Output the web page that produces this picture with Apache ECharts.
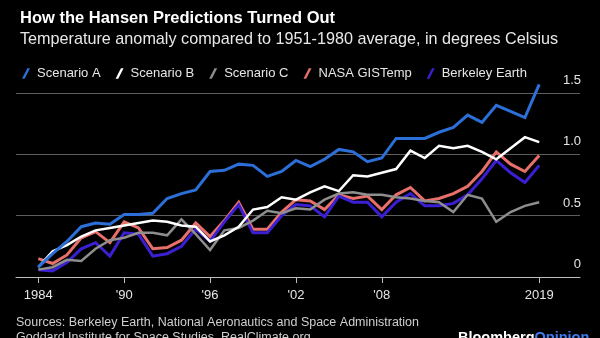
<!DOCTYPE html>
<html><head><meta charset="utf-8">
<script src="https://cdn.jsdelivr.net/npm/echarts@6/dist/echarts.min.js"></script>
<style>html,body{margin:0;padding:0;background:#000}#c{width:600px;height:338px}</style>
</head><body><div id="c"></div>
<script>
const years = [1984,1985,1986,1987,1988,1989,1990,1991,1992,1993,1994,1995,1996,1997,1998,1999,2000,2001,2002,2003,2004,2005,2006,2007,2008,2009,2010,2011,2012,2013,2014,2015,2016,2017,2018,2019];
const scenarioA = [0.08,0.19,0.29,0.41,0.44,0.43,0.51,0.51,0.52,0.64, 0.68,0.71,0.86,0.87,0.92,0.91,0.82,0.86,0.95,0.90, 0.96,1.04,1.02,0.94,0.97,1.13,1.13,1.13,1.18,1.22, 1.32,1.26,1.40,1.35,1.30,1.57];
const scenarioB = [0.08,0.21,0.26,0.33,0.38,0.40,0.42,0.44,0.46,0.45, 0.42,0.41,0.29,0.34,0.41,0.55,0.57,0.65,0.63,0.69, 0.74,0.70,0.83,0.82,0.85,0.88,1.03,0.97,1.07,1.05, 1.07,1.02,0.96,1.05,1.14,1.10];
const scenarioC = [0.06,0.08,0.14,0.13,0.23,0.30,0.32,0.36,0.36,0.34, 0.47,0.35,0.22,0.38,0.40,0.46,0.54,0.52,0.56,0.55, 0.63,0.68,0.69,0.67,0.67,0.65,0.64,0.62,0.61,0.53, 0.67,0.64,0.45,0.53,0.58,0.61];
const nasa = [0.15,0.11,0.18,0.32,0.37,0.28,0.45,0.40,0.23,0.24, 0.30,0.44,0.33,0.46,0.61,0.39,0.39,0.53,0.63,0.62, 0.55,0.67,0.64,0.66,0.55,0.67,0.73,0.62,0.64,0.68, 0.74,0.86,1.02,0.92,0.86,0.99];
const berkeley = [0.06,0.05,0.12,0.23,0.28,0.17,0.36,0.35,0.17,0.19, 0.25,0.39,0.29,0.45,0.59,0.36,0.36,0.50,0.59,0.58, 0.49,0.66,0.61,0.61,0.49,0.61,0.68,0.58,0.58,0.60, 0.67,0.80,0.95,0.85,0.77,0.91];
const tickYears = [1984,1990,1996,2002,2008,2019];
const tickLabels = ['1984',"'90","'96","'02","'08",'2019'];
const seriesNames = ['Scenario A','Scenario B','Scenario C','NASA GISTemp','Berkeley Earth'];

const FONT = '"Liberation Sans", Arial, sans-serif';
const pts = arr => years.map((y,i)=>[y,arr[i]]);
const chart = echarts.init(document.getElementById('c'), null, {renderer:'canvas'});
const mk = (name, arr, color, width, z) => ({
  name, type:'line', data: pts(arr), color, showSymbol:false, symbol:'none',
  lineStyle:{color, width, join:'miter'}, itemStyle:{color}, z, clip:false, animation:false
});
chart.setOption({
  backgroundColor:'#000',
  animation:false,
  title:[
    {text:'How the Hansen Predictions Turned Out', left:15, top:5, textStyle:{color:'#fff', fontSize:16.5, fontWeight:'bold', fontFamily:FONT}},
    {text:'Temperature anomaly compared to 1951-1980 average, in degrees Celsius', left:15, top:27, textStyle:{color:'#e8e8e8', fontSize:16.2, fontWeight:'normal', fontFamily:FONT}}
  ],
  legend:{
    left:17, top:62, itemWidth:8, itemHeight:11, itemGap:15,
    icon:'path://M0,10 L5,0 L7.5,0 L2.5,10 Z',
    data:seriesNames,
    textStyle:{color:'#e6e6e6', fontSize:13, fontFamily:FONT, padding:[0,0,0,2]}
  },
  grid:{left:16, right:20, top:93, bottom:61},
  xAxis:{
    type:'value', min:1982.44, max:2021.85,
    splitLine:{show:false},
    axisLine:{show:true, lineStyle:{color:'#bdbdbd', width:1}},
    axisTick:{show:true, customValues:tickYears, length:6, lineStyle:{color:'#bdbdbd'}},
    axisLabel:{customValues:tickYears, color:'#e6e6e6', fontSize:13, fontFamily:FONT, margin:12,
      formatter: v => tickLabels[tickYears.indexOf(Math.round(v))] || ''}
  },
  yAxis:{
    type:'value', position:'right', min:0, max:1.5, interval:0.5,
    axisLine:{show:false}, axisTick:{show:false},
    splitLine:{show:true, lineStyle:{color:'#5e5e5e', width:1}},
    axisLabel:{inside:true, margin:-1, color:'#e6e6e6', fontSize:13, fontFamily:FONT, verticalAlign:'bottom', padding:[0,0,6,0],
      formatter: v => v===0 ? '0' : v.toFixed(1)}
  },
  series:[
    mk('Scenario A', scenarioA, '#2c6fd8', 3, 6),
    mk('Scenario B', scenarioB, '#ffffff', 2.5, 5),
    mk('Scenario C', scenarioC, '#8e8e8e', 2.5, 4),
    mk('NASA GISTemp', nasa, '#e8706b', 3, 2),
    mk('Berkeley Earth', berkeley, '#3b1fd2', 3, 3)
  ],
  graphic:[
    {type:'text', left:16, top:316, style:{text:'Sources: Berkeley Earth, National Aeronautics and Space Administration', fill:'#cfcfcf', font:'12.5px '+FONT}},
    {type:'text', left:16, top:331, style:{text:'Goddard Institute for Space Studies, RealClimate.org', fill:'#cfcfcf', font:'12.5px '+FONT}},
    {type:'text', left:458, top:330, style:{text:'{a|Bloomberg}{b|Opinion}', rich:{
      a:{fill:'#ffffff', font:'bold 14.5px '+FONT},
      b:{fill:'#3f7ef2', font:'bold 14.5px '+FONT}}}}
  ]
});
</script></body></html>
